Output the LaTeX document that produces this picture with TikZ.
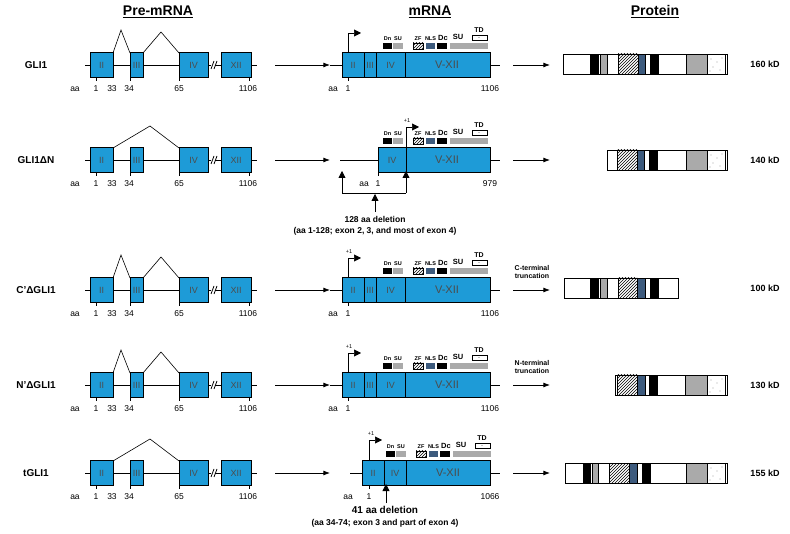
\documentclass[tikz,border=0pt]{standalone}
\usepackage{fontspec}
\setmainfont{Liberation Sans}
\usetikzlibrary{patterns,arrows.meta}
\definecolor{exon}{RGB}{30,155,215}
\definecolor{nls}{RGB}{60,90,125}
\definecolor{gr}{RGB}{170,170,170}
\tikzset{
 ex/.style={draw=black,fill=exon,line width=0.8pt},
 exl/.style={font=\fontsize{9}{9}\selectfont,text=black!70},
 aal/.style={font=\fontsize{8.5}{9}\selectfont},
 dl/.style={font=\bfseries\fontsize{5.5}{6}\selectfont,inner sep=0pt},
 ttl/.style={font=\bfseries\fontsize{14}{14}\selectfont},
 row/.style={font=\bfseries\fontsize{10}{10}\selectfont},
 kd/.style={font=\bfseries\fontsize{9}{9}\selectfont},
 arr/.style={-{Latex},line width=0.8pt},
 seg/.style={draw=black,line width=0.6pt},
}
\newcommand\Pre[2]{% y, single?
 \begin{scope}[shift={(0,#1)}]
  \draw[line width=0.6pt] (85,0)--(211,0) (215,0)--(257,0);
  \draw[line width=0.8pt] (211,4)--(214,-4) (214,4)--(217,-4);
  \ifnum#2=1
   \draw[line width=0.6pt] (113,-12)--(150,-34)--(179,-12);
  \else
   \draw[line width=0.6pt] (113,-12)--(121,-35)--(130,-12) (143,-12)--(161,-33)--(179,-12);
  \fi
  \node[ex,minimum width=23pt,minimum height=25pt] at (101.5,0) {};
  \node[exl] at (101.5,0) {II};
  \node[ex,minimum width=13pt,minimum height=25pt] at (136.5,0) {};
  \node[exl] at (136.5,0) {III};
  \node[ex,minimum width=29pt,minimum height=25pt] at (193.5,0) {};
  \node[exl] at (193.5,0) {IV};
  \node[ex,minimum width=30pt,minimum height=25pt] at (236,0) {};
  \node[exl] at (236,0) {XII};
  \draw[line width=0.6pt] (96,12)--(96,16) (130,12)--(130,16) (179,12)--(179,16) (249,12)--(249,16);
  \node[aal] at (75,24) {aa}; \node[aal] at (96,24) {1}; \node[aal] at (112,24) {33};
  \node[aal] at (129,24) {34}; \node[aal] at (179,24) {65}; \node[aal] at (248,24) {1106};
 \end{scope}}
\newcommand\Dom[2]{% y, shift
 \begin{scope}[shift={(#2,#1)}]
  \fill[black] (383,-22) rectangle (392,-16);
  \fill[gr] (393,-22) rectangle (403,-16);
  \draw[pattern=north east lines,line width=0.4pt] (413,-22) rectangle (423,-16);
  \fill[nls] (426,-22) rectangle (435,-16);
  \fill[black] (437,-22) rectangle (447,-16);
  \fill[gr] (450,-22) rectangle (488,-16);
  \draw[line width=0.5pt,fill=white] (472,-30) rectangle (487,-25);
  \fill (479,-27.5) circle (0.4);
  \node[dl] at (387.5,-26) {Dn}; \node[dl] at (398,-26) {SU};
  \node[dl] at (418,-26) {ZF}; \node[dl] at (430.5,-26) {NLS};
  \node[dl,font=\bfseries\fontsize{7.5}{7}\selectfont] at (443,-27) {Dc};
  \node[dl,font=\bfseries\fontsize{7.5}{7}\selectfont] at (458,-28) {SU};
  \node[dl,font=\bfseries\fontsize{7}{7}\selectfont] at (479,-35) {TD};
 \end{scope}}
\newcommand\FullM[2]{% y, +1 label?
 \begin{scope}[shift={(0,#1)}]
  \draw[line width=0.6pt] (330,0)--(500,0);
  \draw[ex] (342,-12.5) rectangle (490,12.5);
  \draw[line width=0.8pt] (364,-12.5)--(364,12.5) (376,-12.5)--(376,12.5) (405,-12.5)--(405,12.5);
  \node[exl] at (353,0) {II}; \node[exl] at (370,0) {III};
  \node[exl] at (390.5,0) {IV}; \node[exl,font=\fontsize{11}{11}\selectfont] at (447,0) {V-XII};
  \draw[line width=0.6pt,-{Triangle[length=7pt,width=7pt]}] (348,-12.5)--(348,-32)--(361,-32);
  \ifnum#2=1 \node[dl,font=\fontsize{5.5}{6}\selectfont] at (349,-38) {+1}; \fi
  \draw[line width=0.6pt] (348,12.5)--(348,16);
  \node[aal] at (333,24) {aa}; \node[aal] at (348,24) {1}; \node[aal] at (490,24) {1106};
 \end{scope}}
\newcommand\Prot[2]{% y, list x1/x2/style
 \foreach \a/\b/\s in {#2} {\draw[seg,\s] (\a,#1-10) rectangle (\b,#1+10);}
}
\newcommand\Dots[2]{\foreach \dx/\dy in {4/-5,10/-2,6/3,13/6,3/7,15/-6}{\fill (#1+\dx,#2+\dy) circle (0.45);}}
\tikzset{wh/.style={fill=white},bk/.style={fill=black},gy/.style={fill=gr},ht/.style={pattern=north east lines},bl/.style={fill=nls}}
\begin{document}
\begin{tikzpicture}[x=1pt,y=-1pt]
\useasboundingbox (0,0) rectangle (790,534);
\node[ttl] (t1) at (158,12) {\underline{Pre-mRNA}};
\node[ttl] (t2) at (430,12) {\underline{mRNA}};
\node[ttl] (t3) at (655,12) {\underline{Protein}};
% row labels
\node[row] (r1) at (36,65) {GLI1};
\node[row] (r2) at (36,160) {GLI1ΔN};
\node[row] (r3) at (36,290) {C’ΔGLI1};
\node[row] (r4) at (36,385) {N’ΔGLI1};
\node[row] (r5) at (36,473) {tGLI1};
\Pre{65}{0}\Pre{160}{1}\Pre{290}{0}\Pre{385}{0}\Pre{473}{1}
% arrows pre->mRNA
\foreach \y in {65,160,290,385,473}{\coordinate (pa\y) at (275,\y); \coordinate (pb\y) at (330,\y); \draw[arr] (pa\y)--(pb\y);}
% mRNA row1,3,4
\FullM{65}{0}\Dom{65}{0}
\FullM{290}{1}\Dom{290}{0}
\FullM{385}{1}\Dom{385}{0}
% row2 mRNA
\begin{scope}[shift={(0,160)}]
 \draw[line width=0.6pt] (340,0)--(500,0);
 \draw[ex] (378,-12.5) rectangle (490,12.5);
 \draw[line width=0.8pt] (406,-12.5)--(406,12.5);
 \node[exl] at (392,0) {IV}; \node[exl,font=\fontsize{11}{11}\selectfont] at (447,0) {V-XII};
 \draw[line width=0.6pt,-{Triangle[length=7pt,width=7pt]}] (406,-12.5)--(406,-33)--(419,-33);
 \node[dl,font=\fontsize{5.5}{6}\selectfont] at (407,-39) {+1};
 \draw[line width=0.6pt] (378,12.5)--(378,16);
 \node[aal] at (364,24) {aa}; \node[aal] at (378,24) {1}; \node[aal] at (490,24) {979};
 \coordinate (d1) at (342,33); \coordinate (d2) at (406,33);
 \draw[line width=0.8pt,-{Triangle[length=7pt,width=7pt]}] (d1)--(342,11);
 \draw[line width=0.8pt,-{Triangle[length=7pt,width=7pt]}] (d2)--(406,11);
 \draw[line width=0.8pt] (d1)--(d2);
 \draw[line width=0.8pt,-{Triangle[length=7pt,width=7pt]}] (375,52)--(375,34);
 \node[font=\bfseries\fontsize{8.5}{9}\selectfont] (del1) at (375,59) {128 aa deletion};
 \node[font=\bfseries\fontsize{8.5}{9}\selectfont] (del1b) at (375,71) {(aa 1-128; exon 2, 3, and most of exon 4)};
\end{scope}
\Dom{160}{0}
% row5 mRNA
\begin{scope}[shift={(0,473)}]
 \draw[line width=0.6pt] (350,0)--(500,0);
 \draw[ex] (362,-12.5) rectangle (490,12.5);
 \draw[line width=0.8pt] (384,-12.5)--(384,12.5) (406,-12.5)--(406,12.5);
 \node[exl] at (373,0) {II}; \node[exl] at (395,0) {IV}; \node[exl,font=\fontsize{11}{11}\selectfont] at (448,0) {V-XII};
 \draw[line width=0.6pt,-{Triangle[length=7pt,width=7pt]}] (369,-12.5)--(369,-33)--(382,-33);
 \node[dl,font=\fontsize{5.5}{6}\selectfont] at (371,-39) {+1};
 \draw[line width=0.6pt] (369,12.5)--(369,16);
 \node[aal] at (348,24) {aa}; \node[aal] at (369,24) {1}; \node[aal] at (490,24) {1066};
 \draw[line width=0.8pt,-{Triangle[length=7pt,width=7pt]}] (386,30)--(386,11);
 \node[font=\bfseries\fontsize{10}{10}\selectfont] (del2) at (385,37) {41 aa deletion};
 \node[font=\bfseries\fontsize{8.5}{9}\selectfont] (del2b) at (385,50) {(aa 34-74; exon 3 and part of exon 4)};
\end{scope}
\Dom{473}{3}
% arrows mRNA->protein
\foreach \y in {65,160,290,385,473}{\coordinate (ma\y) at (513,\y); \coordinate (mb\y) at (550,\y); \draw[arr] (ma\y)--(mb\y);}
\node[font=\bfseries\fontsize{7}{8}\selectfont,align=center] (ct) at (532,272) {C-terminal\\truncation};
\node[font=\bfseries\fontsize{7}{8}\selectfont,align=center] (nt) at (532,367) {N-terminal\\truncation};
% proteins
\Prot{64}{563/590/wh,590/598/bk,598/600/wh,600/607/gy,607/618/wh,618/638/ht,638/645/bl,645/650/wh,650/658/bk,658/686/wh,686/707/gy,707/725/wh,725/727/wh}
\Dots{707}{64}
\Prot{160}{607/617/wh,617/637/ht,637/644/bl,644/649/wh,649/657/bk,657/686/wh,686/707/gy,707/725/wh,725/727/wh}
\Dots{707}{160}
\Prot{288}{564/590/wh,590/598/bk,598/600/wh,600/607/gy,607/618/wh,618/637/ht,637/645/bl,645/650/wh,650/658/bk,658/678/wh}
\Prot{385}{615/617/wh,617/637/ht,637/645/bl,645/649/wh,649/657/bk,657/685/wh,685/707/gy,707/725/wh,725/727/wh}
\Dots{707}{385}
\Prot{473}{565/583/wh,583/590/bk,590/592/wh,592/598/gy,598/609/wh,609/629/ht,629/637/bl,637/642/wh,642/650/bk,650/686/wh,686/707/gy,707/725/wh,725/727/wh}
\Dots{707}{473}
\node[kd] (k1) at (765,64) {160 kD};
\node[kd] (k2) at (765,160) {140 kD};
\node[kd] (k3) at (765,288) {100 kD};
\node[kd] (k4) at (765,385) {130 kD};
\node[kd] (k5) at (765,473) {155 kD};
\end{tikzpicture}
\end{document}
